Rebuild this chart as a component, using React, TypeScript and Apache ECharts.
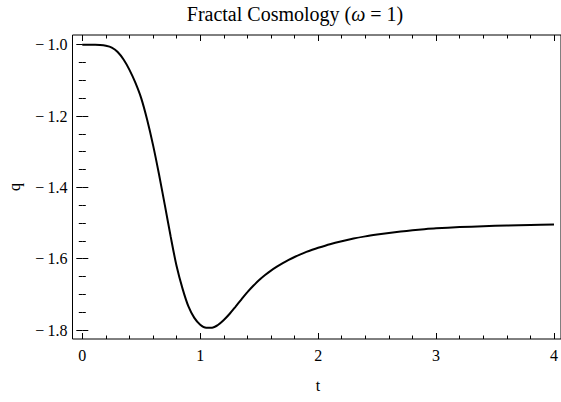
import React, { useEffect, useRef } from "react";
import * as echarts from "echarts";

const tValues = [
  0, 0.05, 0.1, 0.15, 0.2, 0.25, 0.3, 0.35, 0.4, 0.45, 0.5, 0.55, 0.6, 0.65,
  0.7, 0.75, 0.8, 0.85, 0.9, 0.95, 1.0, 1.05, 1.1, 1.15, 1.2, 1.25, 1.3, 1.35,
  1.4, 1.45, 1.5, 1.55, 1.6, 1.65, 1.7, 1.75, 1.8, 1.85, 1.9, 1.95, 2.0, 2.1,
  2.2, 2.3, 2.4, 2.5, 2.6, 2.7, 2.8, 2.9, 3.0, 3.2, 3.4, 3.6, 3.8, 4.0,
];
const qValues = [
  -1.0, -1.0, -1.0002, -1.0008, -1.003, -1.008, -1.0205, -1.0415, -1.0705,
  -1.1065, -1.1505, -1.2105, -1.2815, -1.3625, -1.45, -1.539, -1.6215, -1.684,
  -1.734, -1.766, -1.785, -1.7935, -1.7935, -1.786, -1.772, -1.7545, -1.7345,
  -1.714, -1.694, -1.676, -1.66, -1.646, -1.6335, -1.6225, -1.6125, -1.6035,
  -1.5953, -1.5878, -1.581, -1.575, -1.5695, -1.5595, -1.551, -1.5435, -1.5375,
  -1.5325, -1.528, -1.524, -1.5205, -1.5175, -1.515, -1.5115, -1.509, -1.507,
  -1.5055, -1.504,
];
const xRange = [0, 4];
const yRange = [-1.8, -1.0];
const titleText = "Fractal Cosmology ({i|ω} = 1)";
const xName = "t";
const yName = "q";

const SERIF = "'Liberation Serif', 'DejaVu Serif', serif";

export default function App() {
  const ref = useRef<HTMLDivElement>(null);
  useEffect(() => {
    if (!ref.current) return;
    const chart = echarts.init(ref.current, undefined, { renderer: "svg" });
    const tickStyle = { color: "#000", width: 1 };
    const xCommon = {
      type: "value" as const,
      gridIndex: 1,
      min: xRange[0],
      max: xRange[1],
      interval: 1,
      axisLine: { show: false },
      splitLine: { show: false },
      axisTick: { show: true, inside: true, length: 6, lineStyle: tickStyle },
      minorTick: { show: true, splitNumber: 5, length: 3.5, lineStyle: tickStyle },
    };
    const yCommon = {
      type: "value" as const,
      gridIndex: 1,
      min: yRange[0],
      max: yRange[1],
      interval: 0.2,
      axisLine: { show: false },
      splitLine: { show: false },
      axisTick: { show: true, inside: true, length: 6, lineStyle: tickStyle },
      minorTick: { show: true, splitNumber: 4, length: 3.5, lineStyle: tickStyle },
    };
    chart.setOption({
      animation: false,
      backgroundColor: "#fff",
      grid: [
        {
          left: 72.5,
          top: 35,
          right: -2,
          bottom: 63,
          show: true,
          borderColor: "#000",
          borderWidth: 1,
          backgroundColor: "transparent",
        },
        { left: 82.3, top: 44.7, right: 7, bottom: 72 },
      ],
      xAxis: [
        { type: "value", gridIndex: 0, show: false, min: 0, max: 1 },
        {
          ...xCommon,
          position: "bottom",
          offset: 9,
          axisLabel: {
            show: true,
            margin: 8,
            color: "#000",
            fontFamily: SERIF,
            fontSize: 16,
          },
        },
        { ...xCommon, position: "top", offset: 9.7, axisLabel: { show: false } },
      ],
      yAxis: [
        { type: "value", gridIndex: 0, show: false, min: 0, max: 1 },
        {
          ...yCommon,
          position: "left",
          offset: 9.8,
          axisLabel: {
            show: true,
            margin: 5,
            color: "#000",
            fontFamily: SERIF,
            fontSize: 16,
            formatter: (v: number) =>
              (v < 0 ? "\u2212\u2009" : "") + Math.abs(v).toFixed(1),
          },
        },
        { ...yCommon, position: "right", offset: 9, axisLabel: { show: false } },
      ],
      series: [
        {
          type: "line",
          xAxisIndex: 1,
          yAxisIndex: 1,
          data: tValues.map((t, i) => [t, qValues[i]]),
          showSymbol: false,
          smooth: 0.3,
          clip: false,
          lineStyle: { color: "#000", width: 2 },
        },
      ],
      graphic: [
        {
          type: "text",
          x: 295,
          y: 14,
          style: {
            text: titleText,
            fontFamily: SERIF,
            fontSize: 20,
            fill: "#000",
            align: "center",
            verticalAlign: "middle",
            rich: {
              i: { fontStyle: "italic", fontFamily: SERIF, fontSize: 20, fill: "#000" },
            },
          },
        },
        {
          type: "text",
          x: 318,
          y: 385,
          style: {
            text: xName,
            fontFamily: SERIF,
            fontSize: 16,
            fill: "#000",
            align: "center",
            verticalAlign: "middle",
          },
        },
        {
          type: "text",
          x: 14,
          y: 187,
          rotation: Math.PI / 2,
          style: {
            text: yName,
            fontFamily: SERIF,
            fontSize: 16,
            fill: "#000",
            align: "center",
            verticalAlign: "middle",
          },
        },
      ],
    });
    return () => chart.dispose();
  }, []);
  return (
    <div
      ref={ref}
      style={{ position: "fixed", left: 0, top: 0, width: 561, height: 402 }}
    />
  );
}
